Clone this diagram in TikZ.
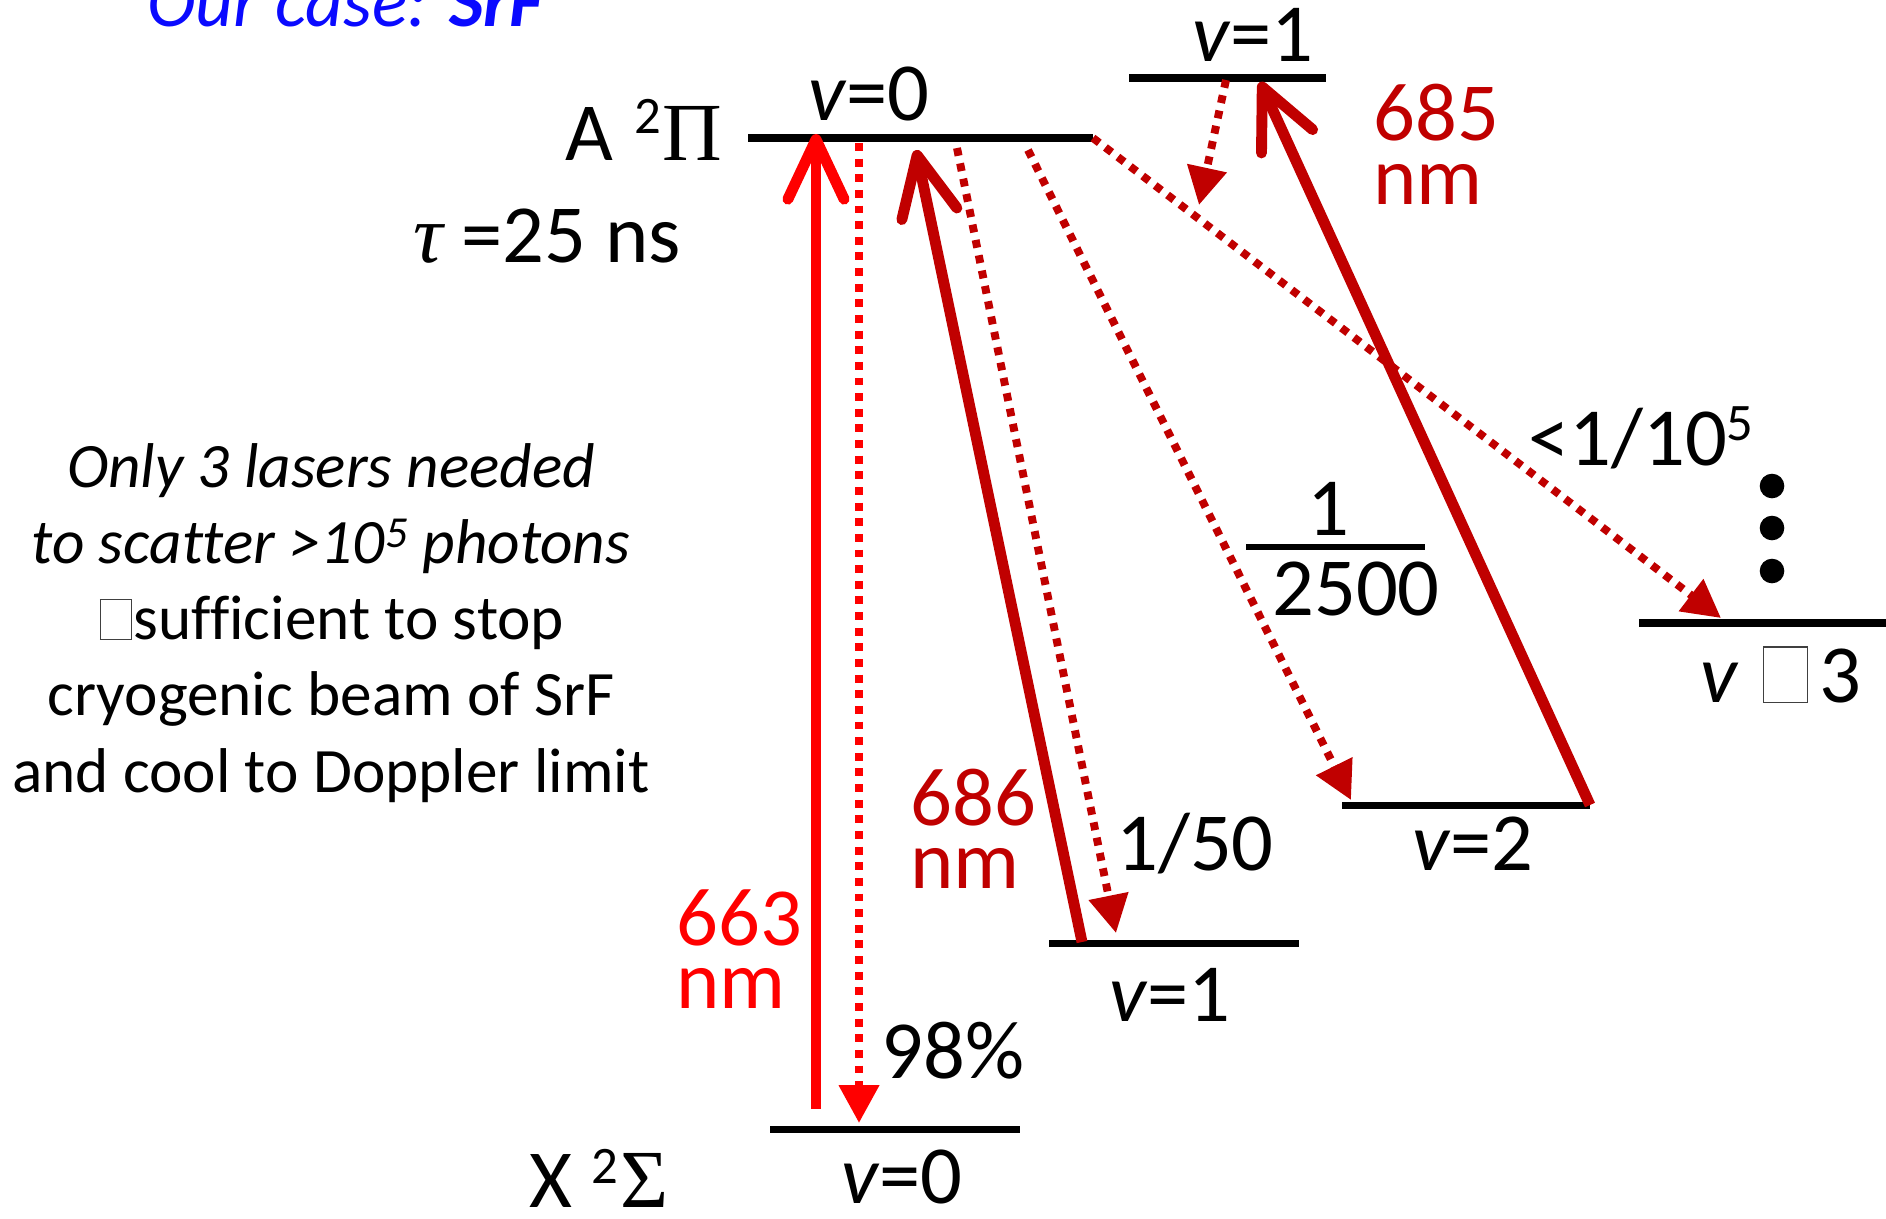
\documentclass[tikz,border=0pt]{standalone}
\usepackage{fontspec}
\setmainfont{Carlito}[Ligatures=CommonOff]
\newfontfamily\grk{Liberation Serif}
\usetikzlibrary{arrows.meta}
\definecolor{dred}{HTML}{C00000}
\definecolor{bred}{HTML}{FF0000}
\definecolor{oblue}{HTML}{0A0AFF}
\newcommand{\lf}{\fontsize{47}{56}\selectfont}
\newcommand{\pf}{\fontsize{36}{43}\selectfont}
\newcommand{\missbox}[2]{{\fboxsep=0pt\fboxrule=0.6pt\color{black!75}\fbox{\rule{0pt}{#2}\hspace{#1}}}}
\begin{document}
\begin{tikzpicture}[x=0.02cm,y=-0.02cm,
  lvl/.style={line width=4pt},
  laser/.style={line width=6.2pt,-{Straight Barb[length=34pt,width=32pt,round]}},
  decay/.style={line width=4.5pt,dash pattern=on 4.5pt off 4.4pt,-{Triangle[length=21.5pt,width=22pt]}},
  txt/.style={inner sep=0pt,anchor=base west,font=\lf},
  ptxt/.style={inner sep=0pt,anchor=base,font=\pf}]
\useasboundingbox (0,0) rectangle (1886,1218);
\clip (0,0) rectangle (1886,1218);

% levels
\coordinate (A0w) at (748,138); \coordinate (A0e) at (1093,138);
\coordinate (A1w) at (1129,78); \coordinate (A1e) at (1326,78);
\coordinate (X0w) at (770,1129); \coordinate (X0e) at (1020,1129);
\coordinate (X1w) at (1049,943); \coordinate (X1e) at (1299,943);
\coordinate (X2w) at (1342,805); \coordinate (X2e) at (1590,805);
\coordinate (X3w) at (1639,623); \coordinate (X3e) at (1886,623);
\draw[lvl] (A0w) -- (A0e);
\draw[lvl] (A1w) -- (A1e);
\draw[lvl] (X0w) -- (X0e);
\draw[lvl] (X1w) -- (X1e);
\draw[lvl] (X2w) -- (X2e);
\draw[lvl] (X3w) -- (X3e);

% arrow end points
\coordinate (p663s) at (816,1109); \coordinate (p663t) at (816,134);
\coordinate (d98s) at (859,143); \coordinate (d98t) at (859,1123);
\coordinate (p686s) at (1082,942); \coordinate (p686t) at (916,150);
\coordinate (d50s) at (957,148); \coordinate (d50t) at (1116,933);
\coordinate (d2500s) at (1028,150); \coordinate (d2500t) at (1351,800);
\coordinate (d3t) at (1721,618);
\coordinate (dAs) at (1226,80); \coordinate (dAt) at (1199,205);
\coordinate (p685t) at (1260,82);

\draw[decay,bred] (d98s) -- (d98t);
\draw[decay,dred] (d50s) -- (d50t);
\draw[decay,dred] (d2500s) -- (d2500t);
\draw[decay,dred] (A0e) -- (d3t);
\draw[decay,dred] (dAs) -- (dAt);
\draw[laser,bred] (p663s) -- (p663t);
\draw[laser,dred] (p686s) -- (p686t);
\draw[laser,dred] (X2e) -- (p685t);

% dots
\fill (1772,486) circle[radius=7pt];
\fill (1772,528) circle[radius=7pt];
\fill (1772,571) circle[radius=7pt];

% labels
\node[txt,text=oblue,font=\fontsize{42}{50}\selectfont\itshape] (case) at (147,26) {Our case: \textbf{SrF}};
\node[txt] (Alab) at (565,160) {A\hspace{12pt}\raisebox{15pt}{\fontsize{30}{30}\selectfont 2}\hspace{1pt}{\grk Π}};
\node[txt] (tau) at (413,262) {{\grk\itshape τ} =25 ns};
\node[txt] (A0lab) at (808,120) {\textit{v}=0};
\node[txt] (A1lab) at (1192,61) {\textit{v}=1};
\node[txt,text=dred] (l685a) at (1373,140) {685};
\node[txt,text=dred] (l685b) at (1373,204) {nm};
\node[txt,text=bred] (l663a) at (676,945) {663};
\node[txt,text=bred] (l663b) at (676,1008) {nm};
\node[txt,text=dred] (l686a) at (910,825) {686};
\node[txt,text=dred] (l686b) at (910,888) {nm};
\node[txt] (p98) at (881,1078) {98\%};
\node[txt] (Xlab) at (529,1207) {X\hspace{11pt}\raisebox{13.6pt}{\fontsize{30}{30}\selectfont 2}\hspace{1pt}{\grk Σ}};
\node[txt] (X0lab) at (841,1203) {\textit{v}=0};
\node[txt] (X1lab) at (1109,1021) {\textit{v}=1};
\node[txt] (p50) at (1116,870) {1/50};
\node[txt] (X2lab) at (1412,870) {\textit{v}=2};
\node[txt,anchor=base] (f1) at (1328,535) {1};
\node[txt] (f2500) at (1272,615) {2500};
\coordinate (fracL) at (1246,547); \coordinate (fracR) at (1425,547);
\draw[line width=3.4pt] (fracL) -- (fracR);
\node[txt] (p105) at (1528,465) {<1/10\raisebox{14pt}{\fontsize{30}{30}\selectfont 5}};
\node[txt] (X3lab) at (1700,702) {\textit{v}\hspace{14pt}\missbox{24pt}{31pt}\hspace{7pt}3};

% side text
\node[ptxt] (q1) at (331,487) {\itshape Only 3 lasers needed};
\node[ptxt] (q2) at (331,563) {\itshape to scatter >10\textsuperscript{5} photons};
\node[ptxt] (q3) at (332,639) {\missbox{17pt}{22pt}\hspace{1pt}sufficient to stop};
\node[ptxt] (q4) at (331,715) {cryogenic beam of SrF};
\node[ptxt] (q5) at (331,792) {and cool to Doppler limit};
\end{tikzpicture}
\end{document}
